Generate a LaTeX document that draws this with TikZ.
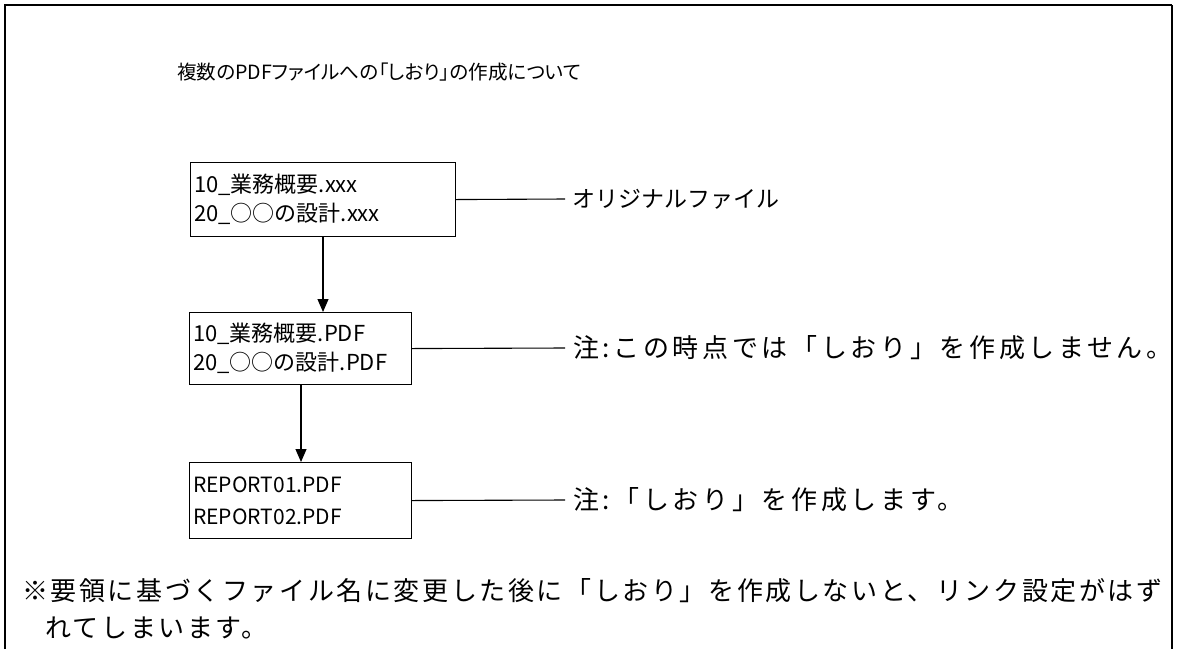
\documentclass[tikz,border=0pt]{standalone}
\usepackage{fontspec}
\setmainfont{Noto Sans CJK JP}
\newfontfamily\jp{Noto Sans CJK JP}
\newfontfamily\jptitle[RawFeature=+palt]{Noto Sans CJK JP}
\newfontfamily\jpnote[LetterSpace=14]{Noto Sans CJK JP}
\newfontfamily\jpfoot[LetterSpace=10]{Noto Sans CJK JP}
\usetikzlibrary{arrows.meta}
\begin{document}
\begin{tikzpicture}[x=1pt,y=-1pt,
  filebox/.style={draw, line width=1.1pt, rectangle, anchor=north west, inner sep=0pt},
  boxtext/.style={anchor=west, inner sep=0pt, align=left, font=\jp\fontsize{22}{29}\selectfont},
  conn/.style={line width=1.1pt},
  flow/.style={line width=1.1pt, -{Triangle[width=11pt,length=13pt]}},
  frame/.style={line width=2.8pt},
  notetext/.style={anchor=west, inner sep=0pt, font=\jpnote\fontsize{26}{30}\selectfont},
]
\useasboundingbox (0,0) rectangle (1178,649);
% outer frame (open at the bottom)
\draw[frame] (5,649) -- (5,5) -- (1172,5);
\draw[line width=2pt] (1172,5) -- (1172,649);

% title
\node[anchor=west, inner sep=0pt, font=\jptitle\fontsize{19.6}{24}\selectfont] (title) at (177,72)
  {複数のPDFファイルへの「しおり」の作成について};

% boxes
\node[filebox, minimum width=265pt, minimum height=74pt] (b1) at (190,162) {};
\node[boxtext] (t1) at (194,199) {10\_業務概要.xxx\\20\_○○の設計.xxx};
\node[filebox, minimum width=222pt, minimum height=72pt] (b2) at (189,312) {};
\node[boxtext] (t2) at (193,348) {10\_業務概要.PDF\\20\_○○の設計.PDF};
\node[filebox, minimum width=222pt, minimum height=76pt] (b3) at (189,462) {};
\node[boxtext, font=\jp\fontsize{21}{32}\selectfont] (t3) at (193,501) {REPORT01.PDF\\REPORT02.PDF};

% flow arrows
\coordinate (a1s) at (323,236);
\coordinate (a1e) at (323,312);
\draw[flow] (a1s) -- (a1e);
\coordinate (a2s) at (301,384);
\coordinate (a2e) at (301,462);
\draw[flow] (a2s) -- (a2e);

% labels
\node[anchor=west, inner sep=0pt, font=\jp\fontsize{23}{26}\selectfont] (l1) at (572,199) {オリジナルファイル};
\node[notetext] (l2) at (573,348) {注:この時点では「しおり」を作成しません。};
\node[notetext] (l3) at (573,500) {注:「しおり」を作成します。};

\draw[conn] (b1.east) -- (565,199);
\draw[conn] (b2.east) -- (565,348);
\draw[conn] (b3.east) -- (565,500);

% footnote
\node[anchor=west, inner sep=0pt, font=\jpfoot\fontsize{26}{30}\selectfont] (f1) at (22,591)
  {※要領に基づくファイル名に変更した後に「しおり」を作成しないと、リンク設定がはず};
\node[anchor=west, inner sep=0pt, font=\jpfoot\fontsize{26}{30}\selectfont] (f2) at (45,628)
  {れてしまいます。};
\end{tikzpicture}
\end{document}
